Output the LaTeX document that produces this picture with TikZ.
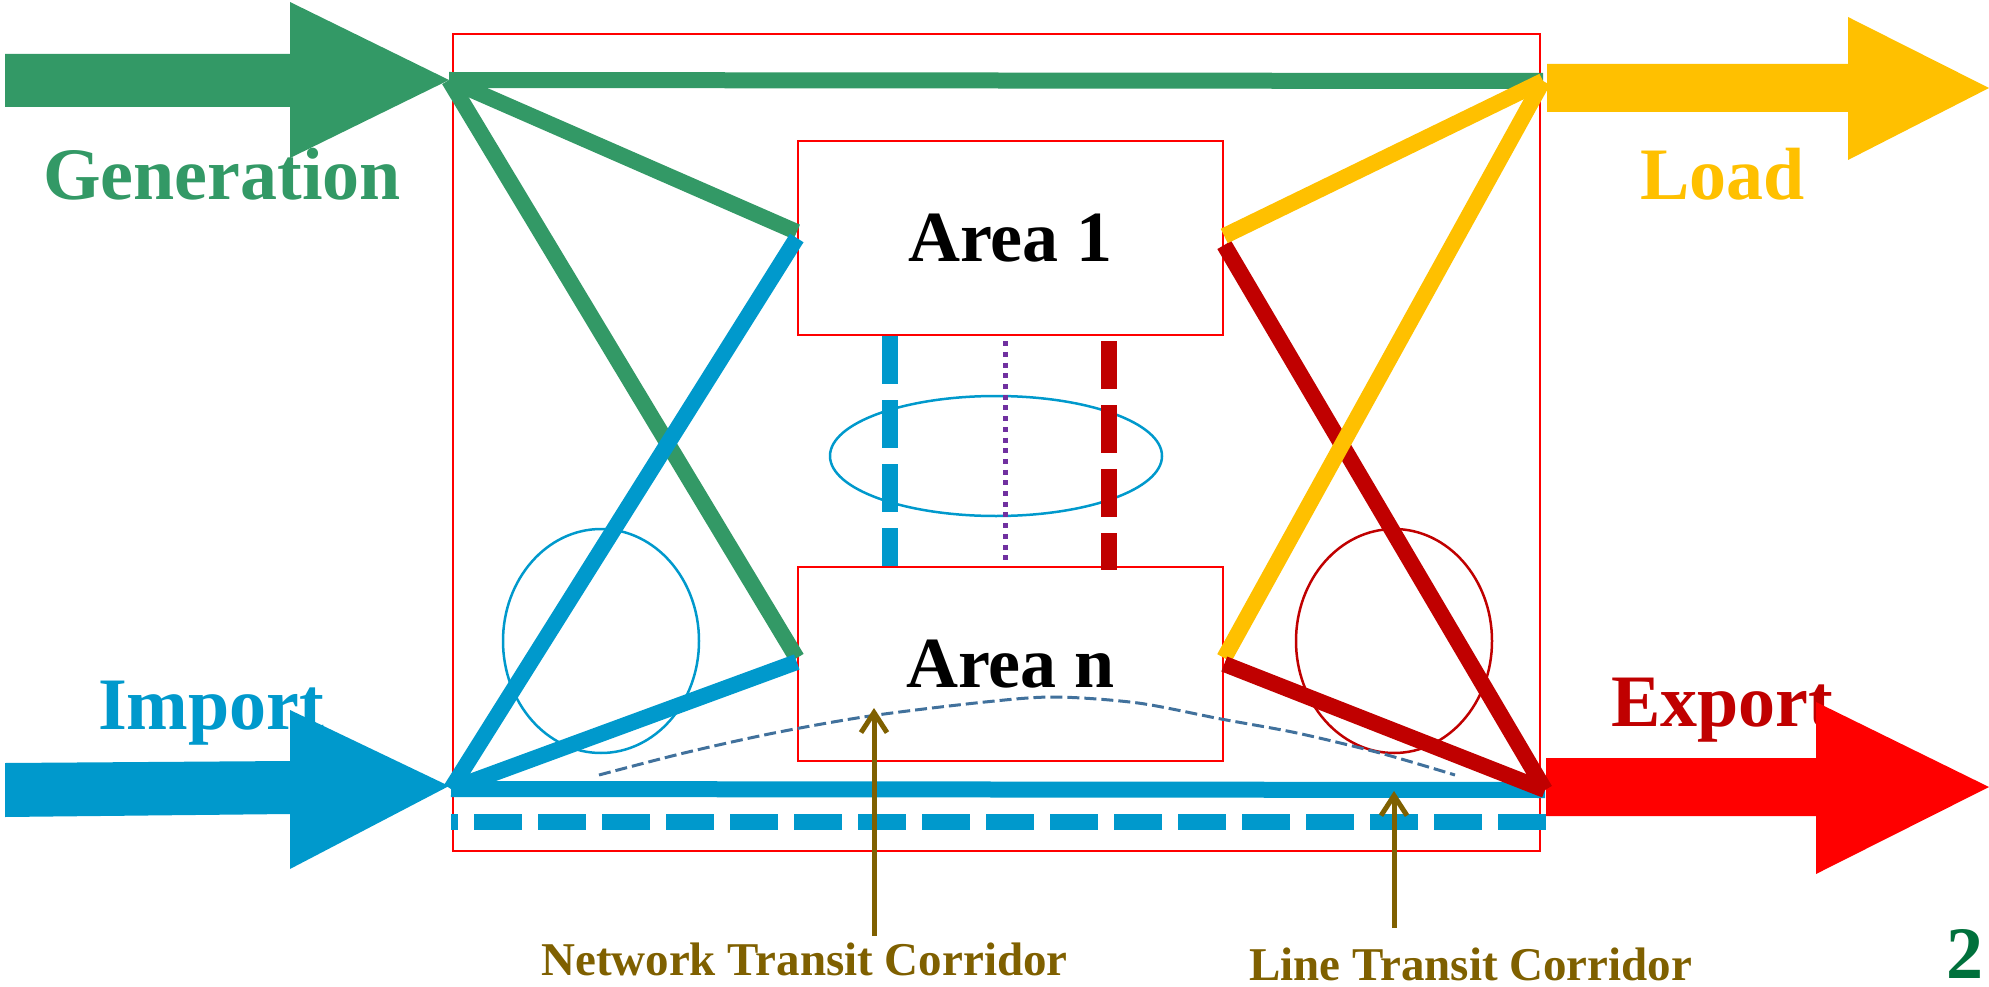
\documentclass[tikz,border=0pt]{standalone}
\usepackage{fontspec}
\setmainfont{Liberation Serif}
\usetikzlibrary{arrows.meta}
\definecolor{cgreen}{HTML}{339966}
\definecolor{cyellow}{HTML}{FFC000}
\definecolor{cblue}{HTML}{0099CC}
\definecolor{cdred}{HTML}{C00000}
\definecolor{cred}{HTML}{FF0000}
\definecolor{cpurple}{HTML}{7030A0}
\definecolor{cbrown}{HTML}{7F6000}
\definecolor{csteel}{HTML}{41719C}
\definecolor{cdgreen}{HTML}{00703C}
\begin{document}
\begin{tikzpicture}[x=1pt,y=-1pt,
  frame/.style={draw=cred,line width=2.5pt},
  areabox/.style={draw=cred,line width=2.5pt,minimum width=425pt,minimum height=194pt,inner sep=0pt,font=\fontsize{72}{80}\selectfont\bfseries},
  link/.style={line width=16pt,line cap=butt},
  biglabel/.style={font=\fontsize{74}{80}\selectfont\bfseries,inner sep=0pt,anchor=base west},
  smalllabel/.style={font=\fontsize{47}{52}\selectfont\bfseries,inner sep=0pt,anchor=base west,text=cbrown},
  thinring/.style={line width=2.5pt},
  corrdash/.style={line width=16pt,line cap=butt,dash pattern=on 48pt off 16pt},
  pointer/.style={draw=cbrown,line width=5pt,-{Straight Barb[length=20pt,width=26pt]}},
]
\useasboundingbox (0,0) rectangle (1989,987);

% outer frame
\draw[frame] (453,34) rectangle (1540,851);

% labels (drawn below the big arrows)
\node[biglabel,text=cgreen] (tgen) at (43,200) {Generation};
\node[biglabel,text=cyellow] (tload) at (1640,200) {Load};
\node[biglabel,text=cblue] (timp) at (98,729) {Import};
\node[biglabel,text=cdred] (texp) at (1611,726) {Export};

% big arrows
\fill[cgreen] (5,54) -- (290,54) -- (290,2) -- (449,80) -- (290,158) -- (290,107) -- (5,107) -- cycle;
\fill[cyellow] (1547,64) -- (1848,64) -- (1848,17) -- (1989,88) -- (1848,160) -- (1848,112) -- (1547,112) -- cycle;
\fill[cblue] (5,763) -- (290,761) -- (290,710) -- (449,786) -- (290,869) -- (290,814) -- (5,817) -- cycle;
\fill[cred] (1546,758) -- (1816,758) -- (1816,702) -- (1989,787) -- (1816,874) -- (1816,816) -- (1546,816) -- cycle;

% junction points
\coordinate (G) at (449,80);
\coordinate (L) at (1543,81);
\coordinate (I) at (451,789);
\coordinate (E) at (1545,790);
\coordinate (Ds) at (451,822);
\coordinate (De) at (1546,822);

% area boxes
\node[areabox] (a1) at (1010.5,238) {Area 1};
\node[areabox] (an) at (1010.5,664) {Area n};

% rings
\draw[thinring,cblue] (996,456) ellipse [x radius=166, y radius=60];
\draw[thinring,cblue] (601,641) ellipse [x radius=98, y radius=112];
\draw[thinring,cdred] (1394,641) ellipse [x radius=98, y radius=112];

% network transit corridor curve
\draw[csteel,line width=3pt,dash pattern=on 12pt off 5pt] plot[smooth] coordinates {(599,775) (684,753) (774,733) (870,716) (985,702) (1055,697) (1138,703) (1221,719) (1297,733) (1380,753) (1455,775)};

% links between areas
\draw[corrdash,cblue] (a1.south -| 890,0) -- (an.north -| 890,0);
\draw[corrdash,cdred] ([yshift=-5pt]a1.south -| 1109,0) -- ([yshift=-4pt]an.north -| 1109,0);
\draw[cpurple,line width=5pt,dash pattern=on 5pt off 5.7pt] ([yshift=-5pt]a1.south -| 1005,0) -- (an.north -| 1005,0);

% flows
\draw[link,cgreen] (G) -- (L);
\draw[link,cgreen] (G) -- ([yshift=6pt]a1.west);
\draw[link,cgreen] (G) -- ([yshift=6pt]an.west);
\draw[link,cblue] (I) -- (E);
\draw[link,cblue] (I) -- (a1.west);
\draw[link,cblue] (I) -- ([yshift=2pt]an.west);
\draw[corrdash,cblue,dash phase=41pt] (Ds) -- (De);
\draw[link,cdred] (E) -- ([yshift=-7pt]a1.east);
\draw[link,cyellow] (L) -- ([yshift=2pt]a1.east);
\draw[link,cyellow] (L) -- ([yshift=6pt]an.east);
\draw[link,cdred] (E) -- (an.east);

% corridor labels and pointers
\node[smalllabel] (tnet) at (541,975) {Network Transit Corridor};
\node[smalllabel] (tline) at (1249,980) {Line Transit Corridor};
\coordinate (p1s) at (874,936);
\coordinate (p1e) at (874,708);
\coordinate (p2s) at (1394,928);
\coordinate (p2e) at (1394,791);
\draw[pointer] (p1s) -- (p1e);
\draw[pointer] (p2s) -- (p2e);

\node[font=\fontsize{74}{80}\selectfont\bfseries,text=cdgreen,inner sep=0pt,anchor=base west] (pg) at (1946,978) {2};
\end{tikzpicture}
\end{document}
